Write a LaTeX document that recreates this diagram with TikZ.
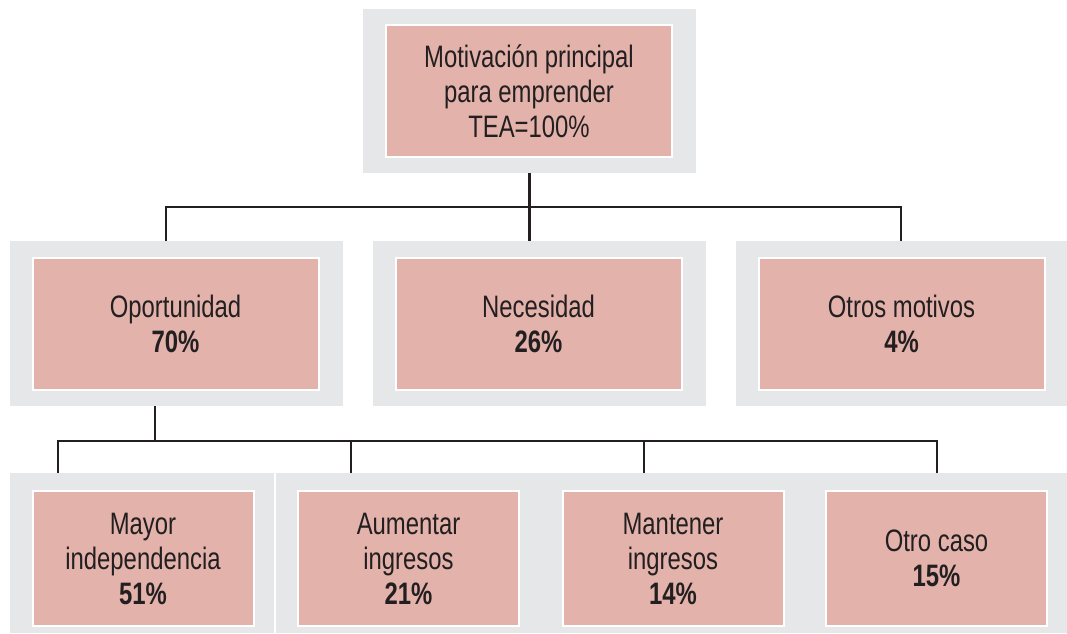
\documentclass[tikz,border=0pt]{standalone}
\usepackage{fontspec}
\setmainfont[FakeStretch=0.77]{Liberation Sans}
\definecolor{fondogris}{HTML}{E6E7E8}
\definecolor{cajarosa}{HTML}{E2B2AB}
\definecolor{tinta}{HTML}{231F20}
\tikzset{
  marco/.style={fill=fondogris, inner sep=0pt},
  caja/.style={fill=cajarosa, draw=white, line width=2pt, inner sep=0pt,
    align=center, text=tinta, font=\fontsize{31}{35}\selectfont},
  rama/.style={draw=tinta, line width=2.5pt}
}
\begin{document}
\begin{tikzpicture}[x=1pt,y=-1pt]
\useasboundingbox (0,0) rectangle (1067,633);

% Caja principal
\node[marco, minimum width=333pt, minimum height=164pt] (mtop) at (529.5,91) {};
\node[caja, minimum width=286pt, minimum height=132pt] (top) at (529,91)
  {Motivación principal\\para emprender\\TEA=100\%};

% Primer nivel
\foreach \nom/\cx/\txt in {oport/176.5/{Oportunidad\\\textbf{70\%}},
                           nec/539.5/{Necesidad\\\textbf{26\%}},
                           otros/902.5/{Otros motivos\\\textbf{4\%}}} {
  \node[marco, minimum width=333pt, minimum height=165pt] (m\nom) at (\cx,323.5) {};
  \node[caja, minimum width=286pt, minimum height=132pt] (\nom) at (\cx-1,324) {\txt};
}

% Segundo nivel
\foreach \nom/\cx/\txt in {mayor/142/{Mayor\\independencia\\\textbf{51\%}},
                           aum/407.5/{Aumentar\\ingresos\\\textbf{21\%}},
                           mant/672/{Mantener\\ingresos\\\textbf{14\%}},
                           otro/935.5/{Otro caso\\\textbf{15\%}}} {
  \node[marco, minimum width=264pt, minimum height=160pt] (m\nom) at (\cx,553) {};
  \node[caja, minimum width=221pt, minimum height=135pt] (\nom) at (\cx+1,558.5) {\txt};
}

% Ramas del primer nivel
\coordinate (a1) at (166,207);
\coordinate (a3) at (901,207);
\draw[rama] (mtop.south) -- (mtop.south |- mnec.north);
\draw[rama] (a1 |- moport.north) -- (a1) -- (a3) -- (a3 |- motros.north);

% Ramas del segundo nivel
\coordinate (b0) at (155,441);
\draw[rama] (b0 |- moport.south) -- (b0);
\coordinate (b1) at (58,441);
\coordinate (b2) at (351,441);
\coordinate (b3) at (644,441);
\coordinate (b4) at (937,441);
\draw[rama] (b1 |- mmayor.north) -- (b1) -- (b4) -- (b4 |- motro.north);
\draw[rama] (b2) -- (b2 |- maum.north);
\draw[rama] (b3) -- (b3 |- mmant.north);

\end{tikzpicture}
\end{document}
